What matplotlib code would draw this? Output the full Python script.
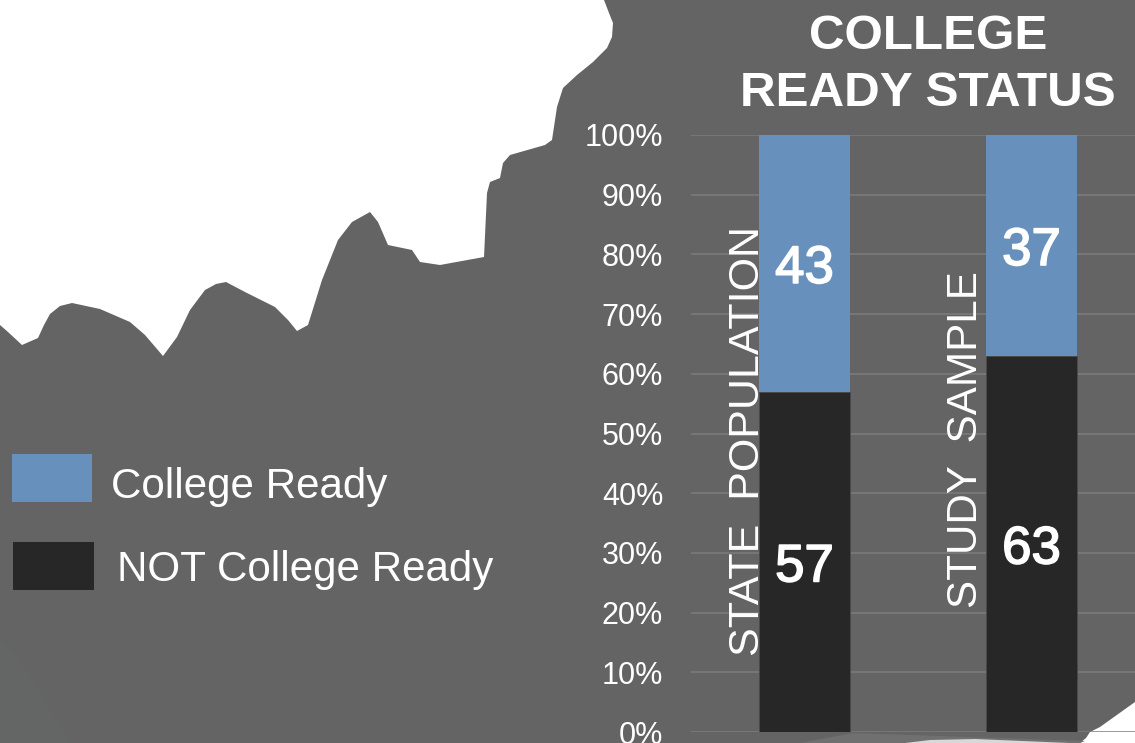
# College ready status chart on grey map background

# %%
import matplotlib
matplotlib.use('Agg')
import matplotlib.pyplot as plt
import matplotlib.patheffects as pe
from matplotlib.patches import Polygon, Rectangle

plt.rcParams['font.family'] = ['Liberation Sans', 'DejaVu Sans']

# %%
# Data
groups = ['STATE  POPULATION', 'STUDY  SAMPLE']
not_ready = [57, 63]
ready = [43, 37]
yticks = [0, 10, 20, 30, 40, 50, 60, 70, 80, 90, 100]
ytick_labels = ['0%', '10%', '20%', '30%', '40%', '50%', '60%', '70%', '80%', '90%', '100%']
legend_names = ['College Ready', 'NOT College Ready']
title_text = 'COLLEGE\nREADY STATUS'

# outline of the white map area, in picture pixels
map_edge = [(0, 0), (0, 325), (8, 332), (22, 345), (38, 338), (44, 325), (50, 314), (60, 306), (72, 303),
            (100, 309), (130, 322), (145, 335), (163, 356), (177, 337), (190, 310), (205, 290),
            (216, 284), (226, 282), (245, 292), (275, 307), (288, 320), (297, 331), (308, 325), (322, 280),
            (338, 240), (352, 222), (370, 212), (378, 222), (388, 245), (412, 250), (420, 262),
            (440, 265), (484, 257), (487, 193), (490, 182), (500, 178), (503, 163), (510, 155),
            (545, 145), (552, 140), (557, 107), (563, 88), (577, 75), (593, 62), (607, 48),
            (612, 37), (613, 23), (609, 13), (604, 0)]
corner = [(1135, 702), (1100, 727), (1090, 732), (1086, 738), (1080, 743), (1135, 743)]
bottom_wedge = [(853, 733), (1085, 741), (1080, 743), (800, 743)]
bottom_white = [(905, 743), (930, 740), (975, 739), (1070, 743)]
faint_patch = [(0, 640), (20, 660), (70, 743), (0, 743)]

W, H = 1135, 743
grey = '#646464'
blue = '#6890bd'
dark = '#272727'

# %%
fig = plt.figure(figsize=(W / 100, H / 100), dpi=100, facecolor=grey)

# background layer in pixel coordinates
bg = fig.add_axes([0, 0, 1, 1], zorder=0)
bg.set_xlim(0, W)
bg.set_ylim(H, 0)
bg.axis('off')
bg.add_patch(Polygon(map_edge, closed=True, fc='white', ec='none'))
bg.add_patch(Polygon(corner, closed=True, fc='white', ec='none'))
bg.add_patch(Polygon(faint_patch, closed=True, fc='#646665', ec='none'))
bg.add_patch(Polygon(bottom_wedge, closed=True, fc='#707070', ec='none'))
bg.add_patch(Polygon(bottom_white, closed=True, fc='#d8d8d8', ec='none'))

# legend drawn by hand, it sits far away from the bars
bg.add_patch(Rectangle((12, 454), 80, 48, fc=blue, ec='none'))
bg.add_patch(Rectangle((13, 542), 81, 48, fc=dark, ec='none'))
bg.text(111, 487, legend_names[0], color='white', fontsize=30.3, va='center', ha='left')
bg.text(117, 570, legend_names[1], color='white', fontsize=30.3, va='center', ha='left')

# %%
# bars, x axis runs past the right edge of the picture
ax = fig.add_axes([691 / W, (H - 732) / H, 454 / W, 597 / H], zorder=1)
ax.patch.set_alpha(0)
x = [0, 1]
ax.bar(x, not_ready, width=0.4, color=dark, edgecolor='#4a4a4a', linewidth=0.6, zorder=3)
ax.bar(x, ready, width=0.4, bottom=not_ready, color=blue, edgecolor='none', zorder=3)
ax.set_xlim(-0.5, 1.5)
ax.set_ylim(0, 100)
ax.set_xticks([])
ax.set_yticks(yticks)
ax.set_yticklabels(ytick_labels, color='white', fontsize=22)
ax.tick_params(axis='y', length=0, pad=20)
ax.grid(axis='y', color='#7c7c7c', linewidth=1.1, zorder=1)
for s in ax.spines.values():
    s.set_visible(False)

# numbers are regular weight with a thin white outline
stroke = [pe.withStroke(linewidth=1.2, foreground='white')]
for i in x:
    ax.annotate(str(not_ready[i]), (i, not_ready[i] / 2), xytext=(0, -4), textcoords='offset points',
                color='white', fontsize=38, ha='center', va='center', zorder=5, path_effects=stroke)
    ax.annotate(str(ready[i]), (i, not_ready[i] + ready[i] / 2), xytext=(0, -4), textcoords='offset points',
                color='white', fontsize=38, ha='center', va='center', zorder=5, path_effects=stroke)

# rotated group names next to the bars
ax.text(-0.248, 48.7, groups[0], color='white', fontsize=31, rotation=90, ha='center', va='center', zorder=6)
ax.text(0.713, 49, groups[1], color='white', fontsize=30.3, rotation=90, ha='center', va='center', zorder=6)

fig.text(928 / W, 1 - 65 / H, title_text, color='white', fontsize=35.6, weight='bold',
         ha='center', va='center', linespacing=1.34, zorder=7)

fig.savefig('out.png', dpi=100, facecolor=grey)
